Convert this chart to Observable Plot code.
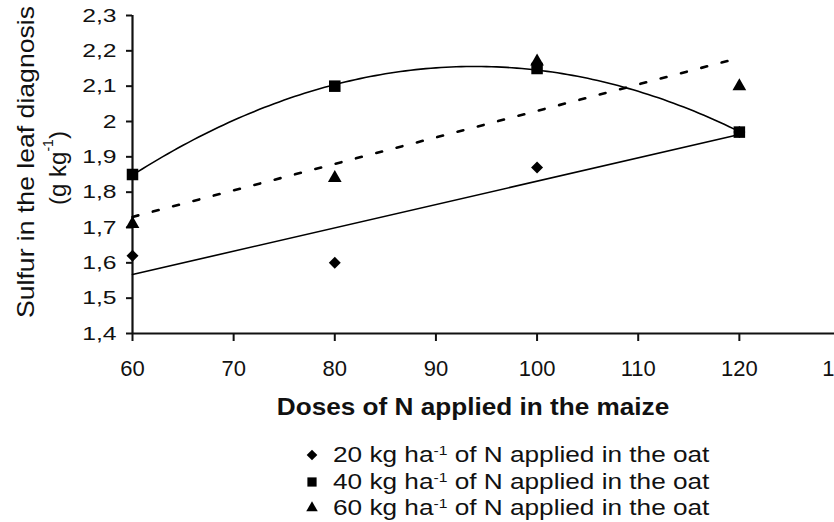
<!DOCTYPE html>
<html>
<head>
<meta charset="utf-8">
<script src="https://cdn.jsdelivr.net/npm/d3@7"></script>
<script src="https://cdn.jsdelivr.net/npm/@observablehq/plot@0.6"></script>
<style>
  html, body { margin: 0; padding: 0; background: #fff; overflow: hidden; width: 834px; height: 522px; }
  body { position: relative; font-family: "Liberation Sans", Arial, sans-serif; color: #111; }
  #chart { position: absolute; left: 0; top: 0; width: 860px; }
  #chart svg { max-width: none !important; height: 384px !important; width: 860px !important; }
  #xtitle { position: absolute; left: 473px; top: 391px; white-space: nowrap; font-weight: bold; font-size: 24px; line-height: 32px; transform: translateX(-50%) scaleX(1.09); }
  #legend { position: absolute; left: 302px; top: 442px; font-size: 22px; line-height: 26.5px; }
  #legend .row { display: flex; align-items: center; height: 26.5px; white-space: nowrap; }
  #legend svg { width: 20px; height: 20px; margin-right: 11px; }
  #legend .txt { display: inline-block; transform: scaleX(1.19); transform-origin: left center; }
  #legend sup { font-size: 60%; vertical-align: 0.55em; line-height: 0; }
</style>
</head>
<body>
<div id="chart"></div>
<div id="xtitle">Doses of N applied in the maize</div>
<div id="legend"></div>
<script>
// ---- data ----
const doses = [60, 80, 100, 120];
const oat20 = [1.62, 1.60, 1.87, 1.97];
const oat40 = [1.85, 2.10, 2.15, 1.97];
const oat60 = [1.71, 1.84, 2.17, 2.10];
const seriesNames = ["20", "40", "60"];
const seriesSymbols = ["diamond2", "square", "triangle"];
const xTicks = [60, 70, 80, 90, 100, 110, 120, 130];
const yTicks = [1.4, 1.5, 1.6, 1.7, 1.8, 1.9, 2.0, 2.1, 2.2, 2.3];
const xTitle = "Doses of N applied in the maize";
const yTitle1 = "Sulfur in the leaf diagnosis";

// ---- tables ----
const rows = [];
[oat20, oat40, oat60].forEach((vals, s) => {
  doses.forEach((d, i) => rows.push({dose: d, s: vals[i], series: seriesNames[s], symbol: seriesSymbols[s]}));
});
const r20 = rows.filter(d => d.series === "20");
const r40 = rows.filter(d => d.series === "40");
const r60 = rows.filter(d => d.series === "60");

// quadratic least-squares trend for the 40 kg series
function quadFit(xs, ys) {
  const n = xs.length;
  let S = [0,0,0,0,0], T = [0,0,0];
  for (let i = 0; i < n; i++) {
    const x = xs[i], y = ys[i];
    for (let k = 0; k < 5; k++) S[k] += Math.pow(x, k);
    for (let k = 0; k < 3; k++) T[k] += Math.pow(x, k) * y;
  }
  const A = [[S[0],S[1],S[2],T[0]],[S[1],S[2],S[3],T[1]],[S[2],S[3],S[4],T[2]]];
  for (let c = 0; c < 3; c++) {
    for (let r = c + 1; r < 3; r++) {
      const f = A[r][c] / A[c][c];
      for (let k = c; k < 4; k++) A[r][k] -= f * A[c][k];
    }
  }
  const b = [0,0,0];
  for (let r = 2; r >= 0; r--) {
    let s = A[r][3];
    for (let k = r + 1; k < 3; k++) s -= A[r][k] * b[k];
    b[r] = s / A[r][r];
  }
  return x => b[0] + b[1] * x + b[2] * x * x;
}
const q40 = quadFit(doses, oat40);
const trend40 = d3.range(60, 120.01, 0.5).map(x => ({dose: x, s: q40(x)}));

const fmt = d => String(+d.toFixed(1)).replace(".", ",");

const chart = Plot.plot({
  width: 860,
  height: 384,
  marginLeft: 132,
  marginRight: 20,
  marginTop: 15,
  marginBottom: 51,
  style: {fontFamily: "'Liberation Sans', Arial, sans-serif", fontSize: "22px", color: "#111", background: "#fff", overflow: "visible", maxWidth: "none"},
  x: {domain: [60, 130]},
  y: {domain: [1.4, 2.3]},
  marks: [
    Plot.axisX({ticks: xTicks, tickSize: 8, tickPadding: 19, label: null, strokeWidth: 2, tickFormat: d => String(d), fontSize: 22}),
    Plot.axisY({ticks: yTicks, tickSize: 6, tickPadding: 10, label: null, strokeWidth: 2, tickFormat: fmt, fontSize: 19}),
    Plot.ruleY([1.4], {strokeWidth: 2.2}),
    Plot.ruleX([60], {strokeWidth: 2.2}),
    Plot.linearRegressionY(r20, {x: "dose", y: "s", stroke: "#000", strokeWidth: 1.6, ci: 0}),
    Plot.line(trend40, {x: "dose", y: "s", stroke: "#000", strokeWidth: 1.6, curve: "linear"}),
    Plot.linearRegressionY(r60, {x: "dose", y: "s", stroke: "#000", strokeWidth: 2.6, ci: 0, strokeDasharray: "6,15"}),
    Plot.dot(r20, {x: "dose", y: "s", symbol: "diamond2", r: 5.4, fill: "#000", stroke: "none"}),
    Plot.dot(r40, {x: "dose", y: "s", symbol: "square", r: 6.5, fill: "#000", stroke: "none"}),
    Plot.dot(r60, {x: "dose", y: "s", symbol: "triangle", r: 5.1, fill: "#000", stroke: "none"})
  ]
});
document.getElementById("chart").appendChild(chart);

const svg = d3.select(chart);
// widen the y tick labels like the reference
svg.selectAll("[aria-label='y-axis tick label'] text").each(function() {
  const len = this.getComputedTextLength();
  d3.select(this).attr("textLength", len * 1.3).attr("lengthAdjust", "spacingAndGlyphs");
});

// y-axis title (two lines, second with superscript)
svg.append("text")
  .attr("transform", "translate(25,162) rotate(-90)")
  .attr("text-anchor", "middle")
  .attr("dominant-baseline", "central")
  .attr("font-size", 24)
  .attr("fill", "#111")
  .attr("textLength", 312)
  .attr("lengthAdjust", "spacingAndGlyphs")
  .text(yTitle1);
const t2 = svg.append("text")
  .attr("transform", "translate(57,168) rotate(-90)")
  .attr("text-anchor", "middle")
  .attr("dominant-baseline", "central")
  .attr("font-size", 24)
  .attr("fill", "#111");
t2.append("tspan").text("(g kg");
t2.append("tspan").attr("font-size", 14).attr("dy", -9).text("-1");
t2.append("tspan").attr("dy", 9).text(")");

// legend
const legend = d3.select("#legend");
seriesNames.forEach((name, i) => {
  const row = legend.append("div").attr("class", "row");
  const sv = row.append("svg").attr("viewBox", "-10 -10 20 20");
  const sym = [d3.symbolDiamond2, d3.symbolSquare, d3.symbolTriangle][i];
  const size = [72, 85, 58][i];
  sv.append("path").attr("d", d3.symbol(sym, size)()).attr("fill", "#000");
  const span = row.append("span").attr("class", "txt");
  span.append("span").text(name + " kg ha");
  span.append("sup").text("-1");
  span.append("span").text(" of N applied in the oat");
});
</script>
</body>
</html>
